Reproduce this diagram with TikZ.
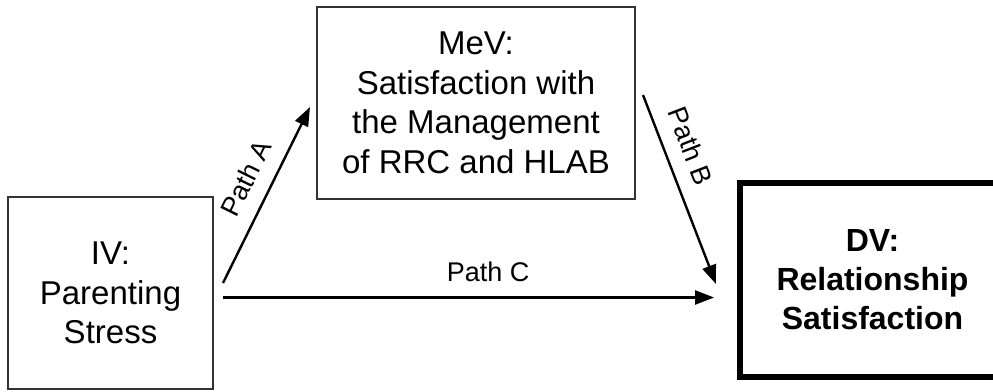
\documentclass[tikz,border=0pt]{standalone}
\usepackage{fontspec}
\setmainfont{Liberation Sans}
\usetikzlibrary{arrows.meta}
\begin{document}
\begin{tikzpicture}[x=1pt,y=-1pt,
  box/.style={draw=black!80, line width=1.8pt, align=center, inner sep=0pt,
    font=\fontsize{33}{39.5}\selectfont},
  boldbox/.style={draw=black, line width=6pt, align=center, inner sep=0pt,
    font=\fontsize{32}{39}\selectfont\bfseries},
  arr/.style={draw=black, line width=2.4pt, -{Triangle[length=19pt,width=14pt]}},
  lab/.style={font=\fontsize{27}{30}\selectfont, inner sep=0pt, sloped, above=15pt}]
\useasboundingbox (0,0) rectangle (993,391);
\clip (0,0) rectangle (993,391);
\fill[white] (0,0) rectangle (993,391);
% boxes
\node[box, minimum width=205pt, minimum height=192pt] (iv) at (110.5,293)
  {IV:\\Parenting\\Stress};
\node[box, minimum width=318pt, minimum height=192pt] (mev) at (476,103)
  {MeV:\\Satisfaction with\\the Management\\of RRC and HLAB};
\node[boldbox, minimum width=265pt, minimum height=194pt] (dv) at (872.5,279.5)
  {DV:\\Relationship\\Satisfaction};
% connector end points
\coordinate (aS) at (223,283);
\coordinate (aE) at (310,107);
\coordinate (bS) at (643,95);
\coordinate (bE) at (716,284);
\coordinate (cS) at (223,297.5);
\coordinate (cE) at (714,297.5);
% connectors
\draw[arr] (aS) -- node[lab, pos=0.53] {Path A} (aE);
\draw[arr] (bS) -- node[lab, pos=0.32] {Path B} (bE);
\draw[arr] (cS) -- node[lab, pos=0.54] {Path C} (cE);
\end{tikzpicture}
\end{document}
